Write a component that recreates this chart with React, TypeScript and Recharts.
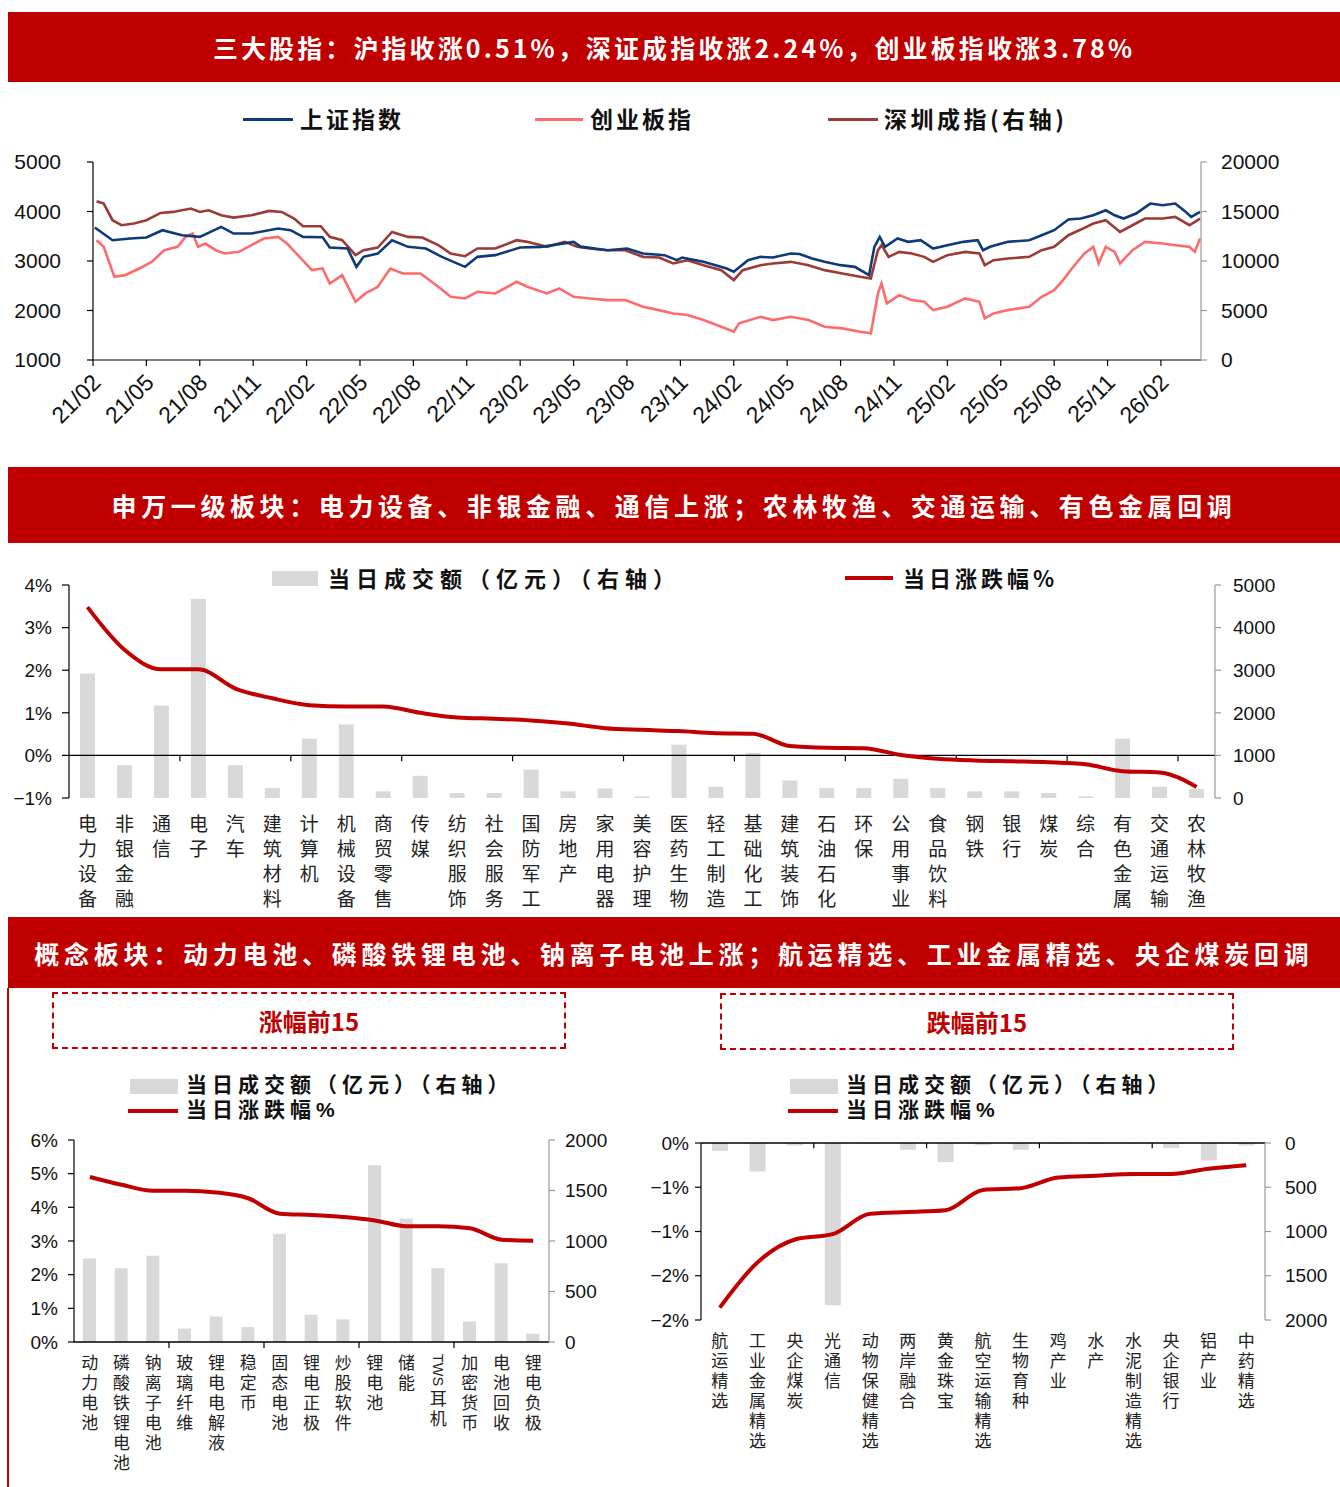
import React from 'react'
import { LineChart, ComposedChart, Line, Bar, XAxis, YAxis, ReferenceLine } from 'recharts'

const RED = '#C00000'
const GREY_BAR = '#D9D9D9'
const CJK = '"Noto Sans CJK SC", "Liberation Sans", sans-serif'
const NUM = '"Liberation Sans", Arial, sans-serif'
const LAT_CJK = '"Liberation Sans", "Noto Sans CJK SC", sans-serif'

// ---- top chart: index levels, x = months since 21/02
const monthTicks = [0, 3, 6, 9, 12, 15, 18, 21, 24, 27, 30, 33, 36, 39, 42, 45, 48, 51, 54, 57, 60]
const monthLabels = ['21/02', '21/05', '21/08', '21/11', '22/02', '22/05', '22/08', '22/11', '23/02', '23/05', '23/08',
  '23/11', '24/02', '24/05', '24/08', '24/11', '25/02', '25/05', '25/08', '25/11', '26/02']

const shM = [0.1, 1.1, 2.1, 3.0, 3.9, 5.0, 6.0, 7.2, 7.9, 8.9, 10.4, 11.1, 11.8, 12.9, 13.3, 14.3, 14.8, 15.2, 16.0, 16.8,
  17.7, 18.7, 19.6, 20.9, 21.6, 22.6, 24.0, 25.2, 27.0, 27.4, 28.9, 30.0, 30.9, 32.1, 32.8, 33.1, 34.3, 35.6, 36.0, 36.8,
  37.5, 38.2, 39.2, 39.7, 40.4, 41.1, 42.0, 42.8, 43.6, 43.9, 44.2, 44.5, 45.2, 45.8, 46.5, 47.2, 48.0, 48.9, 49.7, 50.0,
  50.4, 51.4, 52.6, 53.3, 54.0, 54.8, 55.5, 56.2, 56.9, 57.4, 57.9, 58.6, 59.4, 60.1, 60.8, 61.4, 61.7, 62.2]
const shV = [3676, 3420, 3454, 3474, 3622, 3520, 3487, 3689, 3555, 3555, 3655, 3622, 3487, 3480, 3272, 3252, 2882, 3084, 3150, 3420,
  3286, 3252, 3084, 2882, 3084, 3118, 3272, 3286, 3387, 3290, 3218, 3252, 3150, 3118, 3017, 3070, 2983, 2849, 2782, 3017,
  3084, 3070, 3151, 3140, 3050, 2983, 2916, 2882, 2714, 3286, 3487, 3286, 3454, 3387, 3420, 3252, 3320, 3387, 3420, 3218,
  3286, 3387, 3420, 3521, 3622, 3837, 3857, 3924, 4025, 3924, 3857, 3958, 4160, 4126, 4160, 3991, 3890, 3991]

const cyM = [0.2, 0.6, 1.2, 1.8, 2.6, 3.3, 4.0, 4.75, 5.2, 5.6, 5.9, 6.3, 6.9, 7.4, 8.2, 8.9, 9.6, 10.4, 10.9, 11.6,
  12.3, 12.9, 13.3, 14.0, 14.75, 15.3, 16.0, 16.7, 17.4, 18.4, 19.4, 20.1, 20.9, 21.6, 22.6, 23.8, 24.4, 25.5, 26.2, 27.0,
  27.9, 28.9, 29.9, 30.9, 31.8, 32.6, 33.4, 34.3, 35.3, 36.0, 36.3, 37.5, 38.2, 39.2, 40.2, 41.1, 42.1, 43.1, 43.7, 44.1,
  44.3, 44.6, 45.3, 46.0, 46.7, 47.2, 48.0, 49.0, 49.8, 50.1, 50.6, 51.4, 52.6, 53.3, 54.0, 54.5, 55.0, 55.7, 56.2, 56.5,
  56.9, 57.4, 57.7, 58.4, 59.1, 60.1, 60.8, 61.6, 61.9, 62.2]
const cyV = [3420, 3286, 2681, 2714, 2849, 2983, 3218, 3286, 3487, 3554, 3286, 3353, 3218, 3151, 3185, 3319, 3454, 3487, 3353, 3084,
  2815, 2849, 2546, 2714, 2176, 2345, 2479, 2849, 2748, 2748, 2479, 2277, 2244, 2378, 2345, 2580, 2479, 2345, 2446, 2277,
  2244, 2210, 2210, 2076, 2008, 1941, 1908, 1807, 1672, 1571, 1740, 1874, 1807, 1874, 1807, 1672, 1639, 1571, 1538, 2345,
  2546, 2143, 2311, 2210, 2176, 2008, 2076, 2244, 2176, 1840, 1941, 2008, 2076, 2277, 2412, 2613, 2849, 3151, 3286, 2950,
  3286, 3185, 2950, 3218, 3387, 3353, 3319, 3286, 3185, 3454]

const szM = [0.2, 0.6, 1.1, 1.6, 2.3, 3.0, 3.8, 4.5, 5.5, 6.0, 6.5, 7.2, 7.9, 8.9, 9.9, 10.6, 11.3, 11.8, 12.8, 13.3,
  14.0, 14.75, 15.2, 16.0, 16.8, 17.7, 18.5, 19.4, 20.1, 20.9, 21.6, 22.6, 23.8, 24.4, 25.5, 26.5, 27.2, 27.9, 28.9, 29.9,
  30.9, 31.8, 32.6, 33.4, 34.3, 35.3, 36.0, 36.5, 37.5, 38.2, 39.2, 40.2, 41.1, 42.1, 43.1, 43.7, 44.1, 44.3, 44.7, 45.3,
  46.0, 46.7, 47.2, 48.0, 49.0, 49.8, 50.1, 50.6, 51.4, 52.6, 53.3, 54.0, 54.8, 55.5, 56.2, 56.9, 57.7, 58.4, 59.1, 60.1,
  60.8, 61.6, 62.2]
const szV = [16034, 15798, 14118, 13613, 13782, 14118, 14857, 14958, 15294, 14958, 15126, 14622, 14386, 14622, 15059, 14958, 14286, 13513, 13513, 12437,
  12101, 10588, 11092, 11361, 12941, 12437, 12370, 11597, 10756, 10487, 11261, 11261, 12101, 11933, 11429, 11933, 11429, 11261, 11092, 11092,
  10420, 10353, 9748, 10084, 9580, 9076, 8067, 9076, 9580, 9748, 9916, 9580, 9076, 8739, 8403, 8235, 11092, 11597, 10420, 10924,
  10756, 10420, 9916, 10588, 10924, 10756, 9580, 10084, 10252, 10420, 11092, 11429, 12605, 13176, 13782, 14118, 12941, 13613, 14286, 14286,
  14454, 13613, 14286]

// ---- 申万一级
const swNames = ['电力设备', '非银金融', '通信', '电子', '汽车', '建筑材料', '计算机', '机械设备', '商贸零售', '传媒', '纺织服饰',
  '社会服务', '国防军工', '房地产', '家用电器', '美容护理', '医药生物', '轻工制造', '基础化工', '建筑装饰', '石油石化', '环保',
  '公用事业', '食品饮料', '钢铁', '银行', '煤炭', '综合', '有色金属', '交通运输', '农林牧渔']
const swChg = [3.48, 2.48, 2.02, 2.02, 1.57, 1.34, 1.18, 1.15, 1.15, 1.0, 0.89, 0.86, 0.82, 0.75, 0.64, 0.6, 0.57, 0.52, 0.51,
  0.22, 0.18, 0.17, 0.01, -0.08, -0.12, -0.14, -0.16, -0.21, -0.37, -0.4, -0.74]
const swAmt = [2924, 770, 2170, 4673, 770, 233, 1392, 1726, 156, 521, 117, 117, 669, 156, 225, 39, 1252, 264, 1058, 412, 233,
  233, 451, 233, 156, 156, 117, 39, 1392, 264, 210]

// ---- 概念：涨幅前15
const upNames = ['动力电池', '磷酸铁锂电池', '钠离子电池', '玻璃纤维', '锂电电解液', '稳定币', '固态电池', '锂电正极', '炒股软件',
  '锂电池', '储能', 'TWS耳机', '加密货币', '电池回收', '锂电负极']
const upChg = [4.9, 4.67, 4.49, 4.49, 4.44, 4.27, 3.81, 3.77, 3.71, 3.61, 3.44, 3.44, 3.38, 3.04, 3.01]
const upAmt = [826, 730, 855, 132, 253, 148, 1072, 270, 224, 1750, 1224, 730, 204, 780, 82]

// ---- 概念：跌幅前15
const dnNames = ['航运精选', '工业金属精选', '央企煤炭', '光通信', '动物保健精选', '两岸融合', '黄金珠宝', '航空运输精选', '生物育种',
  '鸡产业', '水产', '水泥制造精选', '央企银行', '铝产业', '中药精选']
const dnChg = [-1.86, -1.35, -1.09, -1.03, -0.8, -0.78, -0.76, -0.53, -0.51, -0.39, -0.37, -0.35, -0.35, -0.29, -0.25]
const dnAmt = [91, 322, 27, 1833, 8, 76, 216, 23, 76, 3, 2, 3, 57, 197, 27]

const toSeries = (ms: number[], vs: number[]) => ms.map((m, i) => ({ m, v: vs[i] }))
const toRows = (names: string[], chg: number[], amt: number[]) => names.map((name, i) => ({ name, chg: chg[i], amt: amt[i] }))

const shData = toSeries(shM, shV)
const cyData = toSeries(cyM, cyV)
const szData = toSeries(szM, szV)
const swData = toRows(swNames, swChg, swAmt)
const upData = toRows(upNames, upChg, upAmt)
const dnData = toRows(dnNames, dnChg, dnAmt)

const MonthTick = ({ x, y, payload }: any) => {
  const i = monthTicks.indexOf(payload.value)
  return (
    <text transform={`translate(${x + 9},${y + 16}) rotate(-45)`} textAnchor="end" fontSize={23} fontFamily={NUM} fill="#111">
      {monthLabels[i]}
    </text>
  )
}

// category names stacked one char per row (vertical writing, so each glyph box is only one em tall);
// a latin run like "TWS" stays together and lies sideways
const VertTick = ({ x, y, payload, fs = 18, lh = 24, top = 8 }: any) => {
  const parts: string[] = String(payload.value).match(/[A-Za-z0-9]+|./gu) || []
  let cy = y + top
  const out: any[] = []
  parts.forEach((p, i) => {
    const latin = /^[A-Za-z0-9]+$/.test(p)
    out.push(
      <text key={i} x={x} y={cy} fontSize={latin ? fs * 0.85 : fs} fontFamily={latin ? NUM : CJK} fill="#222"
        style={{ writingMode: 'vertical-rl' } as any}>{p}</text>
    )
    cy += latin ? p.length * fs * 0.6 + (lh - fs) + 2 : lh
  })
  return <g>{out}</g>
}

const pctFmt = (v: number) => {
  const r = Math.sign(v) * Math.round(Math.abs(v))
  return r === 0 ? '0%' : r < 0 ? `\u2212${-r}%` : `${r}%`
}

const Banner = ({ top, height, text, ls }: { top: number; height: number; text: string; ls: number }) => (
  <div style={{
    position: 'absolute', left: 8, top, width: 1332, height, background: RED, color: '#fff',
    display: 'flex', alignItems: 'center', justifyContent: 'center',
    fontFamily: CJK, fontWeight: 700, fontSize: 25, letterSpacing: ls, whiteSpace: 'nowrap',
  }}>{text}</div>
)

const LegendLine = ({ x, y, w, color, h = 3 }: any) => (
  <div style={{ position: 'absolute', left: x, top: y - h / 2, width: w, height: h, background: color }} />
)
const LegendBox = ({ x, y, w = 48, h = 15 }: any) => (
  <div style={{ position: 'absolute', left: x, top: y - h / 2, width: w, height: h, background: GREY_BAR }} />
)
const LegendText = ({ x, y, text, size = 22, color = '#111', ls = 4, family = CJK }: any) => (
  <div style={{
    position: 'absolute', left: x, top: y - size * 0.55, fontSize: size, lineHeight: `${size * 1.05}px`, height: size * 1.05,
    fontFamily: family, fontWeight: 700, color, letterSpacing: ls, whiteSpace: 'nowrap',
  }}>{text}</div>
)
// two-row legend of the concept charts
const StackLegend = ({ x, y }: any) => (
  <>
    <LegendBox x={x} y={y} w={48} h={15} />
    <LegendText x={x + 56} y={y} text="当日成交额（亿元）（右轴）" size={21} ls={5} family={LAT_CJK} />
    <LegendLine x={x - 2} y={y + 25} w={50} h={4} color={RED} />
    <LegendText x={x + 56} y={y + 25} text="当日涨跌幅%" size={21} ls={5} family={LAT_CJK} />
  </>
)

const axisBlack = { stroke: '#000', strokeWidth: 1.2 }
const axisGrey = { stroke: '#9A9A9A', strokeWidth: 1.2 }
const numTick = { fontSize: 19, fill: '#111', fontFamily: NUM }

const boundaryTicks = (names: string[], every: number, y0: number, y1: number) =>
  names.filter((_, i) => i > 0 && i % every === 0).map(n => (
    <ReferenceLine key={n} yAxisId="l" segment={[{ x: n, y: y0 }, { x: n, y: y1 }]} position="start"
      stroke="#000" strokeWidth={1.2} ifOverflow="visible" />
  ))

export default function App() {
  return (
    <div style={{ position: 'absolute', left: 0, top: 0, width: 1340, height: 1487, background: '#fff', overflow: 'hidden' }}>
      <Banner top={12} height={70} ls={3.1} text="三大股指：沪指收涨0.51%，深证成指收涨2.24%，创业板指收涨3.78%" />

      <LegendLine x={243} y={119} w={50} color="#0E3A7A" />
      <LegendText x={300} y={119} text="上证指数" size={23} ls={3} />
      <LegendLine x={535} y={119} w={48} color="#FF6B6B" />
      <LegendText x={590} y={119} text="创业板指" size={23} ls={3} />
      <LegendLine x={828} y={119} w={50} color="#9B3A36" />
      <LegendText x={884} y={119} text="深圳成指(右轴)" size={23} ls={3.5} />

      <div style={{ position: 'absolute', left: 0, top: 140 }}>
        <LineChart width={1340} height={320} margin={{ top: 22, right: 0, bottom: 0, left: 0 }}>
          <XAxis dataKey="m" type="number" domain={[0, 62.25]} ticks={monthTicks} interval={0} allowDataOverflow
            axisLine={axisBlack} tickLine={axisBlack} tickSize={6} height={100} tick={<MonthTick />} />
          <YAxis yAxisId="l" domain={[1000, 5000]} ticks={[1000, 2000, 3000, 4000, 5000]} width={93}
            axisLine={axisBlack} tickLine={axisBlack} tickSize={6} tickMargin={26} tick={{ ...numTick, fontSize: 21 }} />
          <YAxis yAxisId="r" orientation="right" domain={[0, 20000]} ticks={[0, 5000, 10000, 15000, 20000]} width={139}
            axisLine={axisGrey} tickLine={axisGrey} tickSize={6} tickMargin={14} tick={{ ...numTick, fontSize: 21 }} />
          <Line yAxisId="r" data={szData} dataKey="v" stroke="#9B3A36" strokeWidth={2.6} dot={false} isAnimationActive={false} />
          <Line yAxisId="l" data={cyData} dataKey="v" stroke="#FF6B6B" strokeWidth={2.6} dot={false} isAnimationActive={false} />
          <Line yAxisId="l" data={shData} dataKey="v" stroke="#0E3A7A" strokeWidth={2.6} dot={false} isAnimationActive={false} />
        </LineChart>
      </div>

      <Banner top={467} height={76} ls={4.6} text="申万一级板块：电力设备、非银金融、通信上涨；农林牧渔、交通运输、有色金属回调" />

      <LegendBox x={272} y={578} w={46} h={15} />
      <LegendText x={328} y={578} text="当日成交额（亿元）（右轴）" ls={6} />
      <LegendLine x={845} y={578} w={48} h={4} color={RED} />
      <LegendText x={903} y={578} text="当日涨跌幅%" />

      <div style={{ position: 'absolute', left: 0, top: 560 }}>
        <ComposedChart width={1340} height={356} data={swData} margin={{ top: 25, right: 0, bottom: 0, left: 0 }}>
          <XAxis dataKey="name" interval={0} axisLine={false} tickLine={false} height={118}
            tick={<VertTick fs={19} lh={25} top={8} />} />
          <YAxis yAxisId="l" domain={[-1, 4]} ticks={[-1, 0, 1, 2, 3, 4]} tickFormatter={pctFmt} width={69}
            axisLine={axisBlack} tickLine={axisBlack} tickSize={7} tickMargin={10} tick={numTick} />
          <YAxis yAxisId="r" orientation="right" domain={[0, 5000]} ticks={[0, 1000, 2000, 3000, 4000, 5000]} width={125}
            axisLine={axisGrey} tickLine={axisGrey} tickSize={6} tickMargin={12} tick={numTick} />
          <Bar yAxisId="r" dataKey="amt" fill={GREY_BAR} barSize={15} isAnimationActive={false} />
          <ReferenceLine yAxisId="l" y={0} stroke="#000" strokeWidth={1.4} />
          {boundaryTicks(swNames, 3, 0, -0.14)}
          <Line yAxisId="l" type="monotone" dataKey="chg" stroke={RED} strokeWidth={4} dot={false} isAnimationActive={false} />
        </ComposedChart>
      </div>

      <Banner top={917} height={71} ls={4.75} text="概念板块：动力电池、磷酸铁锂电池、钠离子电池上涨；航运精选、工业金属精选、央企煤炭回调" />
      <div style={{ position: 'absolute', left: 7, top: 988, width: 2, height: 499, background: RED }} />

      <div style={{
        position: 'absolute', left: 52, top: 992, width: 510, height: 53, border: `2px dashed ${RED}`,
        display: 'flex', alignItems: 'center', justifyContent: 'center', color: RED, fontFamily: CJK, fontWeight: 700, fontSize: 24,
      }}>涨幅前15</div>
      <div style={{
        position: 'absolute', left: 720, top: 993, width: 510, height: 53, border: `2px dashed ${RED}`,
        display: 'flex', alignItems: 'center', justifyContent: 'center', color: RED, fontFamily: CJK, fontWeight: 700, fontSize: 24,
      }}>跌幅前15</div>

      <StackLegend x={130} y={1086} />

      <div style={{ position: 'absolute', left: 0, top: 1120 }}>
        <ComposedChart width={620} height={367} data={upData} margin={{ top: 20, right: 0, bottom: 0, left: 0 }}>
          <XAxis dataKey="name" interval={0} axisLine={false} tickLine={false} height={145}
            tick={<VertTick fs={17} lh={20} top={4} />} />
          <YAxis yAxisId="l" domain={[0, 6]} ticks={[0, 1, 2, 3, 4, 5, 6]} tickFormatter={pctFmt} width={74}
            axisLine={axisBlack} tickLine={axisBlack} tickSize={6} tickMargin={10} tick={numTick} />
          <YAxis yAxisId="r" orientation="right" domain={[0, 2000]} ticks={[0, 500, 1000, 1500, 2000]} width={71}
            axisLine={axisGrey} tickLine={axisGrey} tickSize={6} tickMargin={10} tick={numTick} />
          <Bar yAxisId="r" dataKey="amt" fill={GREY_BAR} barSize={13} isAnimationActive={false} />
          <ReferenceLine yAxisId="l" y={0} stroke="#000" strokeWidth={1.4} />
          {boundaryTicks(upNames, 3, 0, -0.18)}
          <Line yAxisId="l" type="monotone" dataKey="chg" stroke={RED} strokeWidth={4} dot={false} isAnimationActive={false} />
        </ComposedChart>
      </div>

      <StackLegend x={790} y={1086} />

      <div style={{ position: 'absolute', left: 630, top: 1120 }}>
        <ComposedChart width={710} height={367} data={dnData} margin={{ top: 23, right: 0, bottom: 0, left: 0 }}>
          <XAxis dataKey="name" interval={0} axisLine={false} tickLine={false} height={167}
            tick={<VertTick fs={17} lh={20} top={4} />} />
          <YAxis yAxisId="l" domain={[-2, 0]} ticks={[0, -0.5, -1, -1.5, -2]} tickFormatter={pctFmt} width={71}
            axisLine={axisBlack} tickLine={axisBlack} tickSize={6} tickMargin={6} tick={numTick} />
          <YAxis yAxisId="r" orientation="right" reversed domain={[0, 2000]} ticks={[0, 500, 1000, 1500, 2000]} width={75}
            axisLine={axisGrey} tickLine={axisGrey} tickSize={6} tickMargin={14} tick={numTick} />
          <Bar yAxisId="r" dataKey="amt" fill={GREY_BAR} barSize={16} isAnimationActive={false} />
          <ReferenceLine yAxisId="l" y={0} stroke="#000" strokeWidth={1.4} />
          {boundaryTicks(dnNames, 3, 0, -0.06)}
          <Line yAxisId="l" type="monotone" dataKey="chg" stroke={RED} strokeWidth={4} dot={false} isAnimationActive={false} />
        </ComposedChart>
      </div>
    </div>
  )
}
